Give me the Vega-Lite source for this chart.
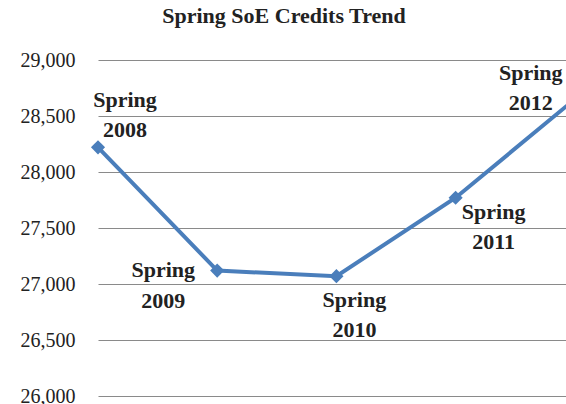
{
  "$schema": "https://vega.github.io/schema/vega-lite/v6.json",
  "width": 468,
  "height": 336,
  "autosize": {"type": "none"},
  "padding": {"left": 98, "top": 60, "right": 0, "bottom": 8},
  "background": "white",
  "title": {
    "text": "Spring SoE Credits Trend",
    "font": "Liberation Serif",
    "fontSize": 22,
    "fontWeight": "bold",
    "color": "#222222",
    "anchor": "middle",
    "dx": -48,
    "offset": 22
  },
  "data": {
    "values": [
      {"year": 2008, "credits": 28220, "label": "Spring\n2008"},
      {"year": 2009, "credits": 27120, "label": "Spring\n2009"},
      {"year": 2010, "credits": 27070, "label": "Spring\n2010"},
      {"year": 2011, "credits": 27770, "label": "Spring\n2011"},
      {"year": 2012, "credits": 28650, "label": "Spring\n2012"}
    ]
  },
  "encoding": {
    "x": {"field": "year", "type": "quantitative", "scale": {"domain": [2008, 2011.926], "nice": false, "zero": false}, "axis": null},
    "y": {
      "field": "credits", "type": "quantitative",
      "scale": {"domain": [26000, 29000], "nice": false, "zero": false},
      "axis": {
        "title": null,
        "values": [26000, 26500, 27000, 27500, 28000, 28500, 29000],
        "format": ",.0f",
        "grid": true,
        "gridColor": "#8a8a8a",
        "gridWidth": 1.2,
        "domain": false,
        "ticks": false,
        "labelFont": "Liberation Serif",
        "labelFontSize": 20,
        "labelColor": "#222222",
        "labelPadding": 23
      }
    }
  },
  "layer": [
    {"mark": {"type": "line", "color": "#4a7ebb", "strokeWidth": 4, "clip": true}},
    {"mark": {"type": "point", "shape": "diamond", "filled": true, "size": 200, "color": "#4a7ebb", "opacity": 1}},
    {"transform": [{"filter": "datum.year == 2008"}], "mark": {"type": "text", "font": "Liberation Serif", "fontSize": 22, "fontWeight": "bold", "color": "#222222", "lineBreak": "\n", "lineHeight": 30, "align": "center", "baseline": "middle", "dx": 27, "dy": -47}, "encoding": {"text": {"field": "label"}}},
    {"transform": [{"filter": "datum.year == 2009"}], "mark": {"type": "text", "font": "Liberation Serif", "fontSize": 22, "fontWeight": "bold", "color": "#222222", "lineBreak": "\n", "lineHeight": 31, "align": "center", "baseline": "middle", "dx": -54, "dy": -1}, "encoding": {"text": {"field": "label"}}},
    {"transform": [{"filter": "datum.year == 2010"}], "mark": {"type": "text", "font": "Liberation Serif", "fontSize": 22, "fontWeight": "bold", "color": "#222222", "lineBreak": "\n", "lineHeight": 30, "align": "center", "baseline": "middle", "dx": 18, "dy": 24}, "encoding": {"text": {"field": "label"}}},
    {"transform": [{"filter": "datum.year == 2011"}], "mark": {"type": "text", "font": "Liberation Serif", "fontSize": 22, "fontWeight": "bold", "color": "#222222", "lineBreak": "\n", "lineHeight": 30, "align": "center", "baseline": "middle", "dx": 38, "dy": 14}, "encoding": {"text": {"field": "label"}}},
    {"transform": [{"filter": "datum.year == 2012"}], "mark": {"type": "text", "font": "Liberation Serif", "fontSize": 22, "fontWeight": "bold", "color": "#222222", "lineBreak": "\n", "lineHeight": 30, "align": "center", "baseline": "middle", "dx": -44, "dy": -26}, "encoding": {"text": {"field": "label"}}}
  ],
  "config": {"view": {"stroke": null}}
}
